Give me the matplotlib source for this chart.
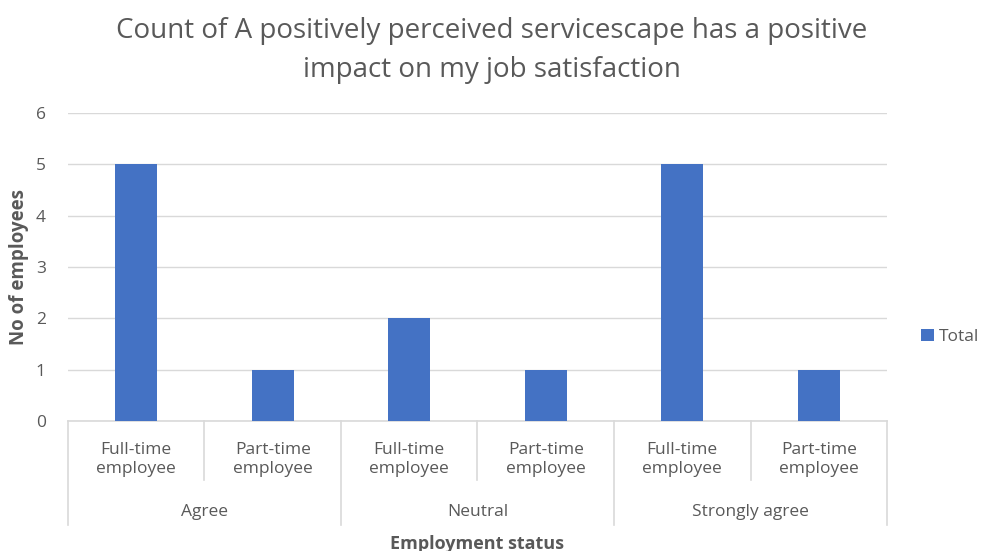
import matplotlib.pyplot as plt

plt.rcParams['font.family'] = ['Open Sans', 'DejaVu Sans']

groups = ['Agree', 'Neutral', 'Strongly agree']
subgroups = ['Full-time\nemployee', 'Part-time\nemployee']
counts = [5, 1, 2, 1, 5, 1]
y_ticks = [0, 1, 2, 3, 4, 5, 6]

bar_color = '#4472C4'
text_color = '#595959'
line_color = '#D9D9D9'

fig = plt.figure(figsize=(9.82, 5.51), dpi=100)
ax = fig.add_axes([0.0692, 0.2359, 0.8341, 0.559])

n = len(counts)
xs = list(range(n))
ax.bar(xs, counts, width=0.31, color=bar_color, zorder=3, label='Total')

ax.set_xlim(-0.5, n - 0.5)
ax.set_ylim(0, 6)
ax.set_yticks(y_ticks)
ax.tick_params(axis='y', length=0, pad=16, labelsize=12.5, labelcolor=text_color)
ax.set_xticks([])
ax.grid(axis='y', color=line_color, linewidth=1, zorder=0)
for s in ['top', 'right', 'left']:
    ax.spines[s].set_visible(False)
ax.spines['bottom'].set_color(line_color)
ax.spines['bottom'].set_linewidth(1.2)

# two-level category axis drawn below the plot area
trans = ax.get_xaxis_transform()
for i in range(n + 1):
    x = i - 0.5
    bottom = -0.338 if i % 2 == 0 else -0.19
    ax.plot([x, x], [0, bottom], transform=trans, color=line_color,
            linewidth=1.2, clip_on=False)
for i in range(n):
    ax.text(i, -0.125, subgroups[i % 2], transform=trans, ha='center',
            va='center', fontsize=12.5, color=text_color, linespacing=1.3)
for g, name in enumerate(groups):
    ax.text(2 * g + 0.5, -0.295, name, transform=trans, ha='center',
            va='center', fontsize=12.5, color=text_color)
ax.text((n - 1) / 2, -0.398, 'Employment status', transform=trans,
        ha='center', va='center', fontsize=13, fontweight='bold',
        color=text_color)

ax.set_ylabel('No of employees', fontsize=13.5, fontweight='bold',
              color=text_color, labelpad=5)

fig.text(0.501, 0.908, 'Count of A positively perceived servicescape has a positive\nimpact on my job satisfaction',
         ha='center', va='center', fontsize=20, color=text_color,
         linespacing=1.5)

fig.legend(loc='center left', bbox_to_anchor=(0.926, 0.388), frameon=False,
           handlelength=0.7, handleheight=0.7, handletextpad=0.3,
           borderpad=0.2, fontsize=12.5, labelcolor=text_color)

fig.savefig('out.png', dpi=100)
